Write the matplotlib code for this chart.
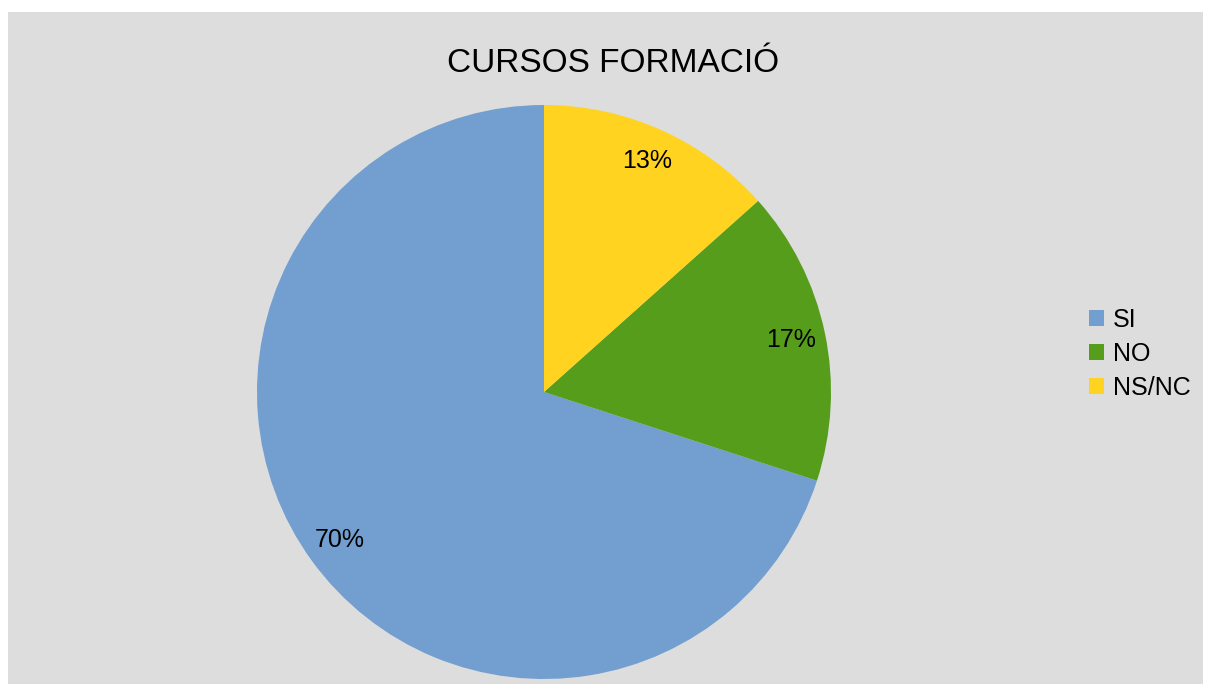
import matplotlib.pyplot as plt
from matplotlib.patches import Rectangle

labels = ["SI", "NO", "NS/NC"]
values = [70.0, 16.6, 13.4]
colors = ["#729fcf", "#579d1c", "#ffd320"]

plt.rcParams["font.family"] = ["Liberation Sans", "DejaVu Sans"]

W, H = 1206, 684
fig = plt.figure(figsize=(W / 100, H / 100), dpi=100)

# gray chart area (white strip at top and left)
fig.patches.append(Rectangle((8 / W, 0), (1203 - 8) / W, (H - 12) / H,
                             transform=fig.transFigure, facecolor="#dddddd",
                             edgecolor="none", zorder=-5))

cx, cy, r = 544, 392, 287
ax = fig.add_axes([(cx - r) / W, (H - cy - r) / H, 2 * r / W, 2 * r / H])
wedges, _, autotexts = ax.pie(values, colors=colors, startangle=90, counterclock=True,
                              autopct="%.0f%%", pctdistance=0.88, radius=1,
                              wedgeprops=dict(linewidth=0),
                              textprops=dict(fontsize=18, color="black"))
ax.set_xlim(-1, 1)
ax.set_ylim(-1, 1)
ax.set_aspect("equal")
ax.axis("off")

fig.text(613 / W, 1 - 64 / H, "CURSOS FORMACIÓ", fontsize=24, ha="center", va="center")

fig.legend(wedges, labels, loc="center left", bbox_to_anchor=(1089 / W, 1 - 354 / H),
           frameon=False, fontsize=18, handlelength=0.6, handleheight=0.6,
           handletextpad=0.36, labelspacing=0.4, borderpad=0, borderaxespad=0)

fig.savefig("out.png", dpi=100)
